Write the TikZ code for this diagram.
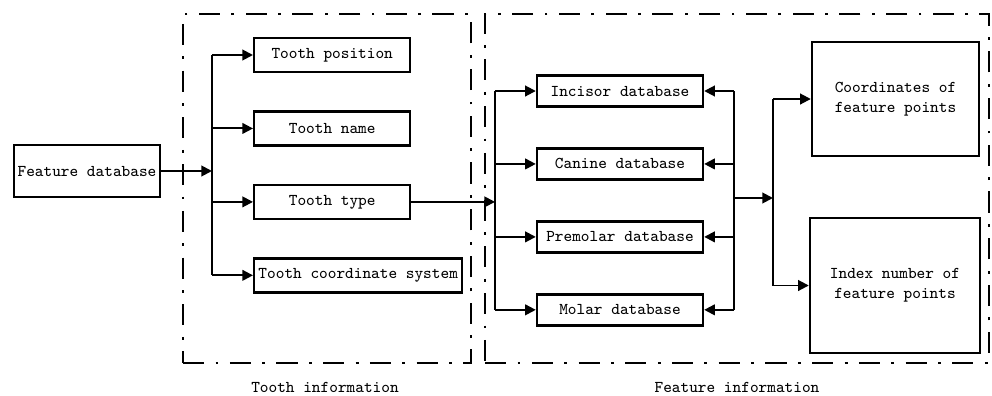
\documentclass[tikz,border=0pt]{standalone}
\usepackage{tikz}
\usetikzlibrary{arrows.meta,positioning}

\begin{document}
\begin{tikzpicture}[x=0.02cm,y=-0.02cm,>={Triangle[length=6pt,width=6pt]},
		line width=1.1pt,font=\ttfamily\fontsize{9.4}{11.3}\selectfont]
		\tikzstyle{box}=[draw,line width=1.4pt,inner sep=0pt,minimum height=0.68cm]
		\tikzstyle{dbbox}=[box,minimum width=3.32cm,minimum height=0.62cm]
		\tikzstyle{frame}=[draw,line width=1.5pt,inner sep=0pt,
			dash pattern=on 12pt off 6.5pt on 1.6pt off 6.5pt]
		\useasboundingbox (0,0) rectangle (992,396);
		
		% frames
		\node[frame,minimum width=5.76cm,minimum height=6.98cm] (tframe) at (327,188.5) {};
		\node[frame,minimum width=10.08cm,minimum height=6.98cm] (fframe) at (737,188.5) {};
		\node (tlab) at (325,387) {Tooth information};
		\node (flab) at (737,387) {Feature information};
		
		\node[box,minimum width=2.92cm,minimum height=1.04cm] (fdb) at (87,171) {Feature database};
		
		% tooth information
		\node[box,anchor=west,minimum width=3.12cm] (pos) at (253,55) {Tooth position};
		\node[box,minimum width=3.12cm] (name) [below=0.74cm of pos.south west,anchor=north west] {Tooth name};
		\node[box,minimum width=3.12cm] (type) [below=0.74cm of name.south west,anchor=north west] {Tooth type};
		\node[box,minimum width=4.16cm] (csys) [below=0.74cm of type.south west,anchor=north west] {Tooth coordinate system};
		
		% feature information
		\node[dbbox] (inc) at (620,91) {Incisor database};
		\node[dbbox] (can) [below=0.79cm of inc] {Canine database};
		\node[dbbox] (pre) [below=0.79cm of can] {Premolar database};
		\node[dbbox] (mol) [below=0.79cm of pre] {Molar database};
		
		\node[box,minimum width=3.34cm,minimum height=2.28cm,align=center] (cfp) at (895.5,99) {Coordinates of\\feature points};
		\node[box,minimum width=3.4cm,minimum height=2.7cm,align=center] (ifp) at (895,285.5) {Index number of\\feature points};
		
		\coordinate (lbus) at (212,171);
		\coordinate (rbus) at (495,200);
		\coordinate (cbus) at (734,198);
		\coordinate (obus) at (773,198);
		
		\draw[->] (fdb) -- (lbus);
		\draw (lbus |- pos) -- (lbus |- csys);
		\foreach \n in {pos,name,type,csys}
			\draw[->] (lbus |- \n) -- (\n.west);
		
		\draw[->] (type.east) -- (type -| rbus);
		\draw (rbus |- inc) -- (rbus |- mol);
		\foreach \n in {inc,can,pre,mol}
			\draw[->] (rbus |- \n) -- (\n.west);
		
		\draw (cbus |- inc) -- (cbus |- mol);
		\foreach \n in {inc,can,pre,mol}
			\draw[->] (cbus |- \n) -- (\n.east);
		
		\draw[->] (cbus) -- (obus);
		\draw (obus |- cfp) -- (obus |- ifp);
		\draw[->] (obus |- cfp) -- (cfp.west);
		\draw[->] (obus |- ifp) -- (ifp.west);
\end{tikzpicture}
\end{document}
